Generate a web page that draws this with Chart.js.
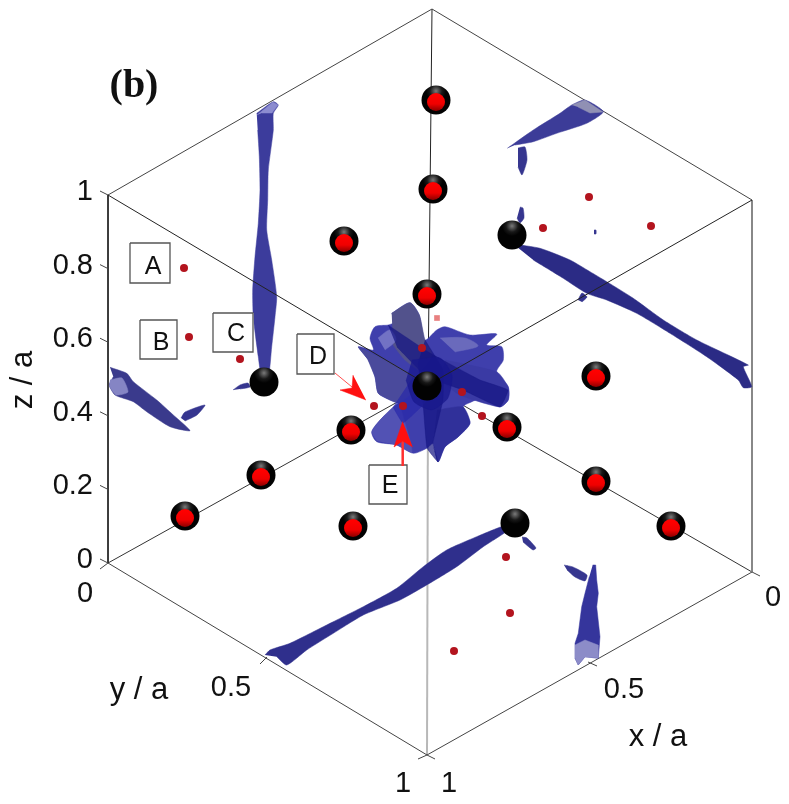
<!DOCTYPE html>
<html>
<head>
<meta charset="utf-8">
<title>chart</title>
<script src="https://cdn.jsdelivr.net/npm/chart.js@4/dist/chart.umd.min.js"></script>
<style>
html, body { margin: 0; padding: 0; background: #fff; }
canvas { display: block; }
</style>
</head>
<body>
<canvas id="cube" width="789" height="804"></canvas>
<script>
const corners = { top: [432, 9], upLeft: [108, 195], upRight: [752, 200], mid: [428, 385],
                  lowLeft: [108, 563], lowRight: [752, 572], bottom: [427, 755] };

const hostAtoms = [[436,100],[433,189],[344,241],[427,294],[351,430],[261,475],[185,516],[353,526],[507,427],[596,376],[596,481],[671,526]];
const darkAtoms = [[264,382],[512,235],[427,386],[515,523]];
const impurities = [[184,268],[189,337],[240,359],[374,406],[403,406],[422,348],[462,392],[482,416],[589,197],[543,228],[651,226],[506,557],[510,613],[454,651]];
const paleImpurity = [[437,318]];

const zTicks = [0, 0.2, 0.4, 0.6, 0.8, 1];
const zTickLabels = ['0', '0.2', '0.4', '0.6', '0.8', '1'];

// big blob in the middle
const blobOutline = [[391.7,313.3],[410,302.7],[419.3,315],[425,340],[436.7,330],[445,326.7],[470,335],[496.7,334],[486.7,345],[501.7,346.7],[503.3,360],[496.7,371.7],[508.3,386.7],[508.3,400],[500,406.7],[483.3,398.3],[468.3,403.3],[463.3,406.7],[470,423.3],[458.3,436.7],[445,446.7],[438.3,461.7],[433.3,443.3],[426.7,448.3],[413.3,453.3],[396.7,445],[376.7,441.7],[371.7,431.7],[381.7,418.3],[398.3,403.3],[390,400],[378.3,393.3],[375,376.7],[368.3,360],[358.3,346.7],[373.3,350],[370,338.3],[375,326.7],[388.3,325],[393.3,323.3]];
const blobTopLobe = [[391.7,313.3],[410,302.7],[419.3,315],[425,340],[432,355],[420,370],[405,360],[393,345]];
const blobLeftLobe = [[358,347],[395,365],[425,385],[410,395],[398,403],[390,400],[378,393],[375,377],[368,360]];
const blobRightLobe = [[445,360],[497,372],[508,387],[508,400],[500,407],[460,395],[440,380]];
const blobCore = [[412,360],[440,358],[452,375],[448,398],[432,410],[414,402],[406,380]];
const blobBandAcross = [[388,325],[430,353],[480,380],[508,390],[500,407],[463,390],[427,377],[397,347]];
const blobBandDown = [[425,340],[443,370],[443,400],[433,443],[438,462],[427,448],[423,403],[418,363]];
const blobBandLow = [[413,377],[427,400],[403,423],[393,407]];
const blobLowLobe = [[437,410],[463,407],[470,423],[458,437],[445,447],[438,462],[433,443]];
const blobPatch = [[377,441],[372,432],[382,418],[398,404],[404,420],[412,452],[397,445]];
const blobShine = [[378,338],[390,330],[396,340],[385,350]];
const blobShine2 = [[440,338],[465,338],[478,346],[455,352]];

// tubes running along the cell edges
const tubeLeft = [[256.7,113.3],[273.3,101.7],[278.3,105],[273.3,113.3],[273.3,130],[268.3,170],[267.7,200],[266.7,230],[271.7,260],[276.7,296.7],[275,316.7],[271.7,346.7],[268.3,376.7],[261.7,376.7],[258.3,356.7],[253.3,316.7],[252.7,290],[255,256.7],[258.3,223.3],[260,190],[259.3,156.7],[257.7,130]];
const tubeLeftTip = [[257,115],[273,102],[278,105],[272,113],[262,113]];
const tubeBottom = [[265,655],[270,650],[290,643.3],[326.7,625],[363.3,606.7],[396.7,588.3],[423.3,566.7],[446.7,550],[476.7,536.7],[506.7,525],[508.3,530],[483.3,546.7],[456.7,566.7],[426.7,585],[400,600],[363.3,615],[333.3,633.3],[306.7,650],[286.7,665],[276.7,656.7]];
const tubeRight = [[513.3,244],[540,248.3],[570,260],[590,271.7],[606.7,281.7],[633.3,298.3],[663.3,320],[696.7,340],[748.3,365],[743.3,366.7],[751.7,386.7],[743.3,387.7],[738.3,380],[706.7,356.7],[670,333.3],[636.7,313.3],[606.7,300],[586.7,293.3],[563.3,278.3],[533.3,260]];
const tubeTopRight = [[507.3,148.3],[533.3,130],[560,113.3],[571.7,105],[585,100],[603.3,111.7],[586.7,123.3],[556.7,133.3],[533.3,141.7],[515,145]];
const tubeTopRightTip = [[571.7,105],[585,100],[603,112],[590,113],[578,107]];
const bladeLowRight = [[592.7,565],[595.7,565],[596.7,580],[598.3,593.3],[596.7,606.7],[600,636.7],[598.3,658.3],[585,656.7],[578.3,665],[575,658.3],[575,643.3],[578.3,633.3],[581.7,606.7],[585,593.3],[589.3,576.7]];
const bladeLowRightTip = [[575,645],[585,640],[598,645],[598,658],[585,657],[578,665],[575,658]];
const sliverLeft = [[110,367.3],[126.7,373.3],[133.3,381.7],[156.7,400],[173.3,415],[190,430.7],[170,426.7],[146.7,411.7],[133.3,401.7],[115,395],[109.3,385],[113.3,376.7]];
const sliverLeftTip = [[110,380],[122,378],[128,392],[116,395],[109,386]];
const scraps = [
  [[181,418],[185,412],[205,405],[197,415],[185,421]],
  [[233,390],[240,385],[248,383],[250,387],[240,389]],
  [[522,537],[527,538],[536,548],[533,550],[523,542]],
  [[578,300],[582,293],[587,297],[582,302]],
  [[518,148],[525,147],[527,160],[522,175],[518,167]],
  [[520,207],[523,208],[524,218],[520,223],[517,218]],
  [[594,230],[596,230],[596,234],[594,234]],
  [[564,565],[573,567],[587,575],[585,581],[575,577],[567,570]]
];

const boxA = [[130,243],[170,243],[170,283],[130,283],[130,243]];
const boxB = [[140,320],[177,320],[177,359],[140,359],[140,320]];
const boxC = [[213,313],[253,313],[253,352],[213,352],[213,313]];
const boxD = [[297,334],[334,334],[334,374],[297,374],[297,334]];
const boxE = [[369,465],[407,465],[407,504],[369,504],[369,465]];
const arrowD = [[335,373],[352,387]];
const arrowDHead = [[366,400],[340,390],[352,388],[353,375]];
const arrowE = [[402.7,466],[402.7,435]];
const arrowEHead = [[402.7,421.5],[394,447],[402.7,441],[412.7,447]];

function pts(list) {
  return list.map(function (p) { return { x: p[0], y: p[1] }; });
}
function seg(a, b) { return pts([a, b]); }

// z axis runs up the left edge
function zPixel(z) { return 563 - z * 368; }

const zTickMarks = zTicks.map(function (z) { return [[100, zPixel(z) - 4], [108, zPixel(z)]]; });
const otherTickMarks = [
  [[100,569],[108,563]], [[260,664],[267,657]], [[418,759],[427,755]],
  [[588,662],[597,666]], [[427,755],[435,759]], [[752,572],[760,576]]
];

const datasets = [];
function line(data, color, width) {
  datasets.push({ data: data, showLine: true, borderColor: color, borderWidth: width, pointRadius: 0, fill: false });
}
function shape(list, color, smooth) {
  datasets.push({ data: pts(list), showLine: true, borderColor: color, borderWidth: 0.5, backgroundColor: color, pointRadius: 0, fill: 'shape', tension: smooth || 0 });
}

// wires behind the blob
line(seg(corners.mid, corners.bottom), '#b8b8b8', 2);
line(seg(corners.top, corners.mid), '#222', 1);
line(seg(corners.mid, corners.lowLeft), '#333', 1);
line(seg(corners.mid, corners.lowRight), '#333', 1);
line(seg(corners.lowRight, corners.upRight), '#888', 2);
line(seg(corners.upLeft, corners.lowLeft), '#222', 1);
line(seg(corners.top, corners.upLeft), '#444', 1);
line(seg(corners.top, corners.upRight), '#444', 1);
line(seg(corners.lowLeft, corners.bottom), '#444', 1);
line(seg(corners.bottom, corners.lowRight), '#444', 1);
zTickMarks.concat(otherTickMarks).forEach(function (t) { line(pts(t), '#444', 1); });

// blobs
shape(tubeLeft, '#3c3c9c', 0.2);
shape(tubeLeftTip, '#8c8cd0');
shape(tubeBottom, '#2f2f8c', 0.2);
shape(tubeRight, '#2b2b85', 0.2);
shape(tubeTopRight, '#3c3c98', 0.2);
shape(tubeTopRightTip, '#9090b4');
shape(bladeLowRight, '#35359c');
shape(bladeLowRightTip, '#8c8cc8');
shape(sliverLeft, '#3a3a8c', 0.2);
shape(sliverLeftTip, '#8585c4', 0.2);
scraps.forEach(function (s) { shape(s, '#36368f', 0.2); });

shape(blobOutline, '#3f3fac', 0.25);
shape(blobLeftLobe, '#4a4a9c', 0.15);
shape(blobTopLobe, '#52528c', 0.2);
shape(blobRightLobe, '#3a3aa4', 0.2);
shape(blobPatch, '#5252b4', 0.2);
shape(blobLowLobe, '#30309a', 0.2);
shape(blobShine, '#7272c4', 0.3);
shape(blobShine2, '#6a6abc', 0.3);
shape(blobBandAcross, 'rgba(20,20,130,0.7)', 0.1);
shape(blobBandDown, 'rgba(20,20,130,0.7)', 0.1);
shape(blobBandLow, 'rgba(40,40,170,0.7)', 0.1);
shape(blobCore, 'rgba(24,24,140,0.75)', 0.2);

// these two wires show through the blob
line(seg(corners.upLeft, corners.mid), '#222', 1);
line(seg(corners.upRight, corners.mid), '#222', 1);

shape(boxA.slice(0, 4), '#fff');
shape(boxB.slice(0, 4), '#fff');
shape(boxC.slice(0, 4), '#fff');
shape(boxD.slice(0, 4), '#fff');
shape(boxE.slice(0, 4), '#fff');
[boxA, boxB, boxC, boxD, boxE].forEach(function (b) { line(pts(b), '#555', 1.3); });

function px(ctx) { return ctx.chart.scales.x.getPixelForValue(ctx.raw.x); }
function py(ctx) { return ctx.chart.scales.y.getPixelForValue(ctx.raw.y); }

function shellFill(ctx) {
  if (!ctx.raw || !isFinite(px(ctx)) || !isFinite(py(ctx))) return '#000';
  const g = ctx.chart.ctx.createRadialGradient(px(ctx), py(ctx) - 9, 0, px(ctx), py(ctx) - 9, 10);
  g.addColorStop(0, '#7a7a7a');
  g.addColorStop(0.6, '#181818');
  g.addColorStop(1, '#020202');
  return g;
}
function coreFill(ctx) {
  if (!ctx.raw || !isFinite(py(ctx))) return '#c00';
  const g = ctx.chart.ctx.createLinearGradient(0, py(ctx) - 7, 0, py(ctx) + 11);
  g.addColorStop(0, '#ff0000');
  g.addColorStop(0.5, '#f00000');
  g.addColorStop(1, '#6e0000');
  return g;
}
datasets.push({ data: pts(hostAtoms.concat(darkAtoms)), pointRadius: 14.5, pointBackgroundColor: shellFill, pointBorderWidth: 0 });
datasets.push({ data: pts(hostAtoms).map(function (p) { return { x: p.x, y: p.y + 2 }; }), pointRadius: 9, pointBackgroundColor: coreFill, pointBorderWidth: 0 });
datasets.push({ data: pts(impurities), pointRadius: 4, pointBackgroundColor: '#b3141e', pointBorderWidth: 0 });
datasets.push({ data: pts(paleImpurity), pointStyle: 'rect', pointRadius: 4, pointBackgroundColor: '#e88080', pointBorderWidth: 0 });

line(pts(arrowD), '#ff5050', 1);
shape(arrowDHead, '#ff1010');
line(pts(arrowE), '#ff3030', 2.5);
shape(arrowEHead, '#ff1010');

datasets.forEach(function (d, i) { d.order = -i; });

const tickFont = '29px "Liberation Sans"';
const boxFont = '25px "Liberation Sans"';

// text goes on last
const captions = [
  { text: '(b)', x: 134, y: 87, font: 'bold 40px "Liberation Serif"' },
  { text: 'A', x: 153, y: 267, font: boxFont },
  { text: 'B', x: 161, y: 343, font: boxFont },
  { text: 'C', x: 236, y: 334, font: boxFont },
  { text: 'D', x: 318, y: 357, font: boxFont },
  { text: 'E', x: 390, y: 486, font: boxFont },
  { text: '0', x: 85, y: 594, font: tickFont },
  { text: '0.5', x: 231, y: 688, font: tickFont },
  { text: '1', x: 403, y: 784, font: tickFont },
  { text: '1', x: 449, y: 784, font: tickFont },
  { text: '0.5', x: 624, y: 690, font: tickFont },
  { text: '0', x: 773, y: 598, font: tickFont },
  { text: 'y / a', x: 139, y: 690, font: '31px "Liberation Sans"' },
  { text: 'x / a', x: 658, y: 737, font: '31px "Liberation Sans"' }
];

const textPlugin = {
  id: 'cubeText',
  afterDatasetsDraw: function (chart) {
    const c = chart.ctx;
    c.save();
    c.fillStyle = '#111';
    c.textBaseline = 'middle';
    c.textAlign = 'center';
    captions.forEach(function (t) {
      c.font = t.font;
      c.fillText(t.text, t.x, t.y);
    });
    c.font = tickFont;
    c.textAlign = 'right';
    zTicks.forEach(function (z, i) {
      c.fillText(zTickLabels[i], 93, zPixel(z) - 3);
    });
    c.translate(32, 380);
    c.rotate(-Math.PI / 2);
    c.textAlign = 'center';
    c.textBaseline = 'alphabetic';
    c.font = '31px "Liberation Sans"';
    c.fillText('z / a', 0, 0);
    c.restore();
  }
};

new Chart(document.getElementById('cube'), {
  type: 'scatter',
  data: { datasets: datasets },
  plugins: [textPlugin],
  options: {
    responsive: false,
    animation: false,
    devicePixelRatio: 1,
    layout: { padding: 0, autoPadding: false },
    plugins: { legend: { display: false }, tooltip: { enabled: false } },
    scales: {
      x: { type: 'linear', min: 0, max: 789, display: false },
      y: { type: 'linear', min: 0, max: 804, reverse: true, display: false }
    }
  }
});
</script>
</body>
</html>
